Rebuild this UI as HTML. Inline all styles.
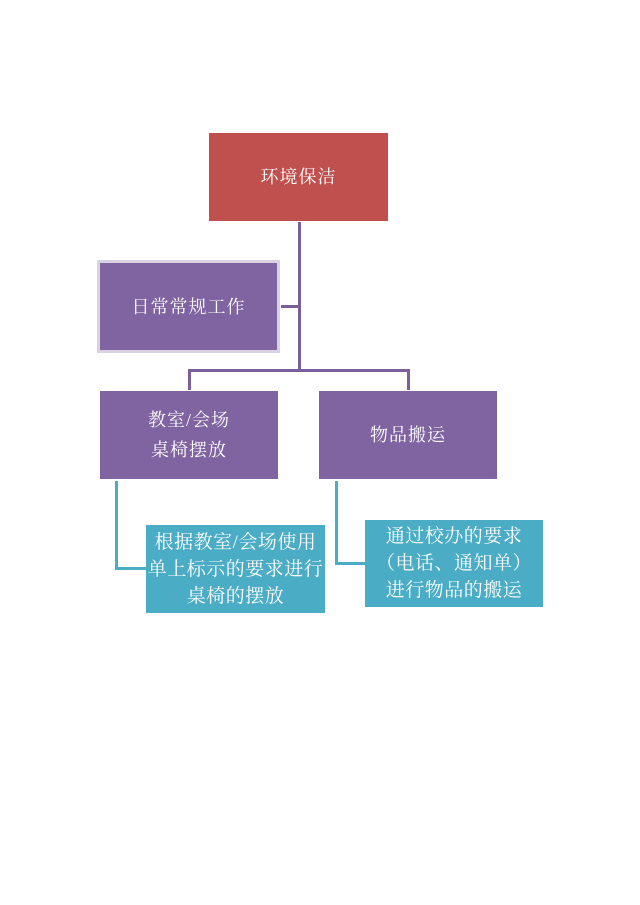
<!DOCTYPE html>
<html><head><meta charset="utf-8"><style>
body{margin:0;width:640px;height:905px;background:#fff;position:relative;overflow:hidden;font-family:"Liberation Serif","Noto Serif CJK SC",serif;}
.b{position:absolute;color:#fff;display:flex;align-items:center;justify-content:center;text-align:center;font-size:18px;letter-spacing:1px;line-height:30px;box-sizing:border-box;}
.l{position:absolute;}
.p{background:#7a5f9b;}
.t{background:#4bacc6;}
.tb{font-size:19px;line-height:27px;letter-spacing:0.5px;}
</style></head><body>
<div class="b" style="left:209px;top:133px;width:179px;height:88px;background:#c0504d;">环境保洁</div>
<div class="b" style="left:97px;top:260px;width:183px;height:93px;background:#8064a2;border:3px solid #d9d2e5;">日常常规工作</div>
<div class="l p" style="left:298px;top:222px;width:3px;height:149px;"></div>
<div class="l p" style="left:281px;top:305px;width:18px;height:3px;"></div>
<div class="l p" style="left:188px;top:369px;width:222px;height:3px;"></div>
<div class="l p" style="left:188px;top:369px;width:3px;height:21px;"></div>
<div class="l p" style="left:407px;top:369px;width:3px;height:21px;"></div>
<div class="b" style="left:100px;top:391px;width:178px;height:88px;background:#8064a2;">教室/会场<br>桌椅摆放</div>
<div class="b" style="left:319px;top:391px;width:178px;height:88px;background:#8064a2;">物品搬运</div>
<div class="l t" style="left:115px;top:481px;width:3px;height:89px;"></div>
<div class="l t" style="left:115px;top:567px;width:31px;height:3px;"></div>
<div class="l t" style="left:335px;top:481px;width:3px;height:84px;"></div>
<div class="l t" style="left:335px;top:562px;width:30px;height:3px;"></div>
<div class="b t tb" style="left:146px;top:525px;width:179px;height:88px;">根据教室/会场使用<br>单上标示的要求进行<br>桌椅的摆放</div>
<div class="b t tb" style="left:365px;top:520px;width:178px;height:87px;">通过校办的要求<br>（电话、通知单）<br>进行物品的搬运</div>
</body></html>
